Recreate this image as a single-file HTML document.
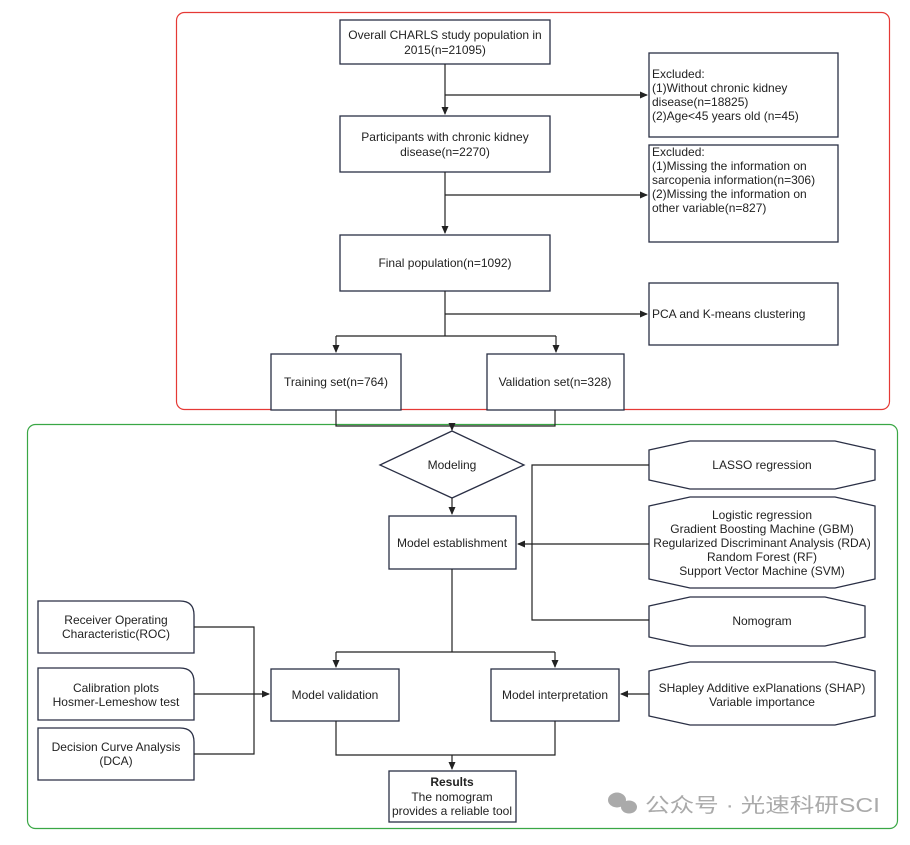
<!DOCTYPE html>
<html><head><meta charset="utf-8"><style>
body{margin:0;background:#fff}
svg text{font-family:"Liberation Sans","Noto Sans CJK SC",sans-serif;font-size:12px;fill:#222}
</style></head><body>
<svg width="910" height="840" viewBox="0 0 910 840" xmlns="http://www.w3.org/2000/svg">
<defs><marker id="a" markerWidth="8" markerHeight="8" refX="7" refY="4" orient="auto" markerUnits="userSpaceOnUse"><path d="M0,0.5 L8,4 L0,7.5z" fill="#222"/></marker></defs>
<rect x="176.5" y="12.5" width="713" height="397" rx="8" fill="none" stroke="#e53935" stroke-width="1.2"/>
<rect x="27.5" y="424.5" width="870" height="404" rx="8" fill="none" stroke="#3aa745" stroke-width="1.2"/>
<g fill="#fff" stroke="#2a2f45" stroke-width="1.3">
<rect x="340" y="20" width="210" height="44"/>
<rect x="649" y="53" width="189" height="84"/>
<rect x="340" y="116" width="210" height="56"/>
<rect x="649" y="145" width="189" height="97"/>
<rect x="340" y="235" width="210" height="56"/>
<rect x="649" y="283" width="189" height="62"/>
<rect x="271" y="354" width="130" height="56"/>
<rect x="487" y="354" width="137" height="56"/>
<polygon points="380,465 452,431 524,465 452,498"/>
<rect x="389" y="516" width="127" height="53"/>
<polygon points="649,450 690,441 835,441 875,450 875,480 835,489 690,489 649,480"/>
<polygon points="649,506 690,497 835,497 875,506 875,579 835,588 690,588 649,579"/>
<polygon points="649,606 690,597 825,597 865,606 865,637 825,646 690,646 649,637"/>
<polygon points="649,671 690,662 835,662 875,671 875,716 835,725 690,725 649,716"/>
<path d="M38,601 H180 Q194,601 194,615 V653 H38Z"/>
<path d="M38,668 H180 Q194,668 194,682 V720 H38Z"/>
<path d="M38,728 H180 Q194,728 194,742 V780 H38Z"/>
<rect x="271" y="669" width="128" height="52"/>
<rect x="491" y="669" width="128" height="52"/>
<rect x="389" y="771" width="127" height="51"/>
</g>
<g fill="none" stroke="#222" stroke-width="1.2">
<path d="M445,64 V114" marker-end="url(#a)"/>
<path d="M445,95 H647" marker-end="url(#a)"/>
<path d="M445,172 V233" marker-end="url(#a)"/>
<path d="M445,195 H647" marker-end="url(#a)"/>
<path d="M445,291 V336"/>
<path d="M445,314 H647" marker-end="url(#a)"/>
<path d="M336,336 H556"/>
<path d="M336,336 V352" marker-end="url(#a)"/>
<path d="M556,336 V352" marker-end="url(#a)"/>
<path d="M336,410 V426 H555 V410"/>
<path d="M452,426 V430" marker-end="url(#a)"/>
<path d="M452,498 V514" marker-end="url(#a)"/>
<path d="M649,465 H532 V620 H649"/>
<path d="M649,544 H518" marker-end="url(#a)"/>
<path d="M452,569 V652"/>
<path d="M336,652 H555"/>
<path d="M336,652 V667" marker-end="url(#a)"/>
<path d="M555,652 V667" marker-end="url(#a)"/>
<path d="M649,694 H621" marker-end="url(#a)"/>
<path d="M194,627 H254 V754 H194 M194,694 H269" marker-end="url(#a)"/>
<path d="M336,721 V755 H555 V721"/>
<path d="M452,755 V769" marker-end="url(#a)"/>
</g>
<g text-anchor="middle">
<text x="445" y="39">Overall CHARLS study population in</text>
<text x="445" y="54">2015(n=21095)</text>
<text x="445" y="141">Participants with chronic kidney</text>
<text x="445" y="156">disease(n=2270)</text>
<text x="445" y="267">Final population(n=1092)</text>
<text x="336" y="386">Training set(n=764)</text>
<text x="555" y="386">Validation set(n=328)</text>
<text x="452" y="469">Modeling</text>
<text x="452" y="547">Model establishment</text>
<text x="762" y="469">LASSO regression</text>
<text x="762" y="519">Logistic regression</text>
<text x="762" y="533">Gradient Boosting Machine (GBM)</text>
<text x="762" y="547">Regularized Discriminant Analysis (RDA)</text>
<text x="762" y="561">Random Forest (RF)</text>
<text x="762" y="575">Support Vector Machine (SVM)</text>
<text x="762" y="625">Nomogram</text>
<text x="762" y="692">SHapley Additive exPlanations (SHAP)</text>
<text x="762" y="706">Variable importance</text>
<text x="116" y="624">Receiver Operating</text>
<text x="116" y="638">Characteristic(ROC)</text>
<text x="116" y="692">Calibration plots</text>
<text x="116" y="706">Hosmer-Lemeshow test</text>
<text x="116" y="751">Decision Curve Analysis</text>
<text x="116" y="765">(DCA)</text>
<text x="335" y="699">Model validation</text>
<text x="555" y="699">Model interpretation</text>
<text x="452" y="786" font-weight="bold">Results</text>
<text x="452" y="801">The nomogram</text>
<text x="452" y="815">provides a reliable tool</text>
</g>
<g text-anchor="start">
<text x="652" y="78">Excluded:</text>
<text x="652" y="92">(1)Without chronic kidney</text>
<text x="652" y="106">disease(n=18825)</text>
<text x="652" y="120">(2)Age&lt;45 years old (n=45)</text>
<text x="652" y="156">Excluded:</text>
<text x="652" y="170">(1)Missing the information on</text>
<text x="652" y="184">sarcopenia information(n=306)</text>
<text x="652" y="198">(2)Missing the information on</text>
<text x="652" y="212">other variable(n=827)</text>
<text x="652" y="318">PCA and K-means clustering</text>
</g>
<g fill="#aaa">
<ellipse cx="617" cy="800" rx="9" ry="7.5"/><ellipse cx="629" cy="807" rx="8" ry="6.5"/>
</g>
<text x="645" y="812" textLength="235" lengthAdjust="spacingAndGlyphs" style="font-size:20px;fill:#aaa">公众号 · 光速科研SCI</text>
</svg>
</body></html>
